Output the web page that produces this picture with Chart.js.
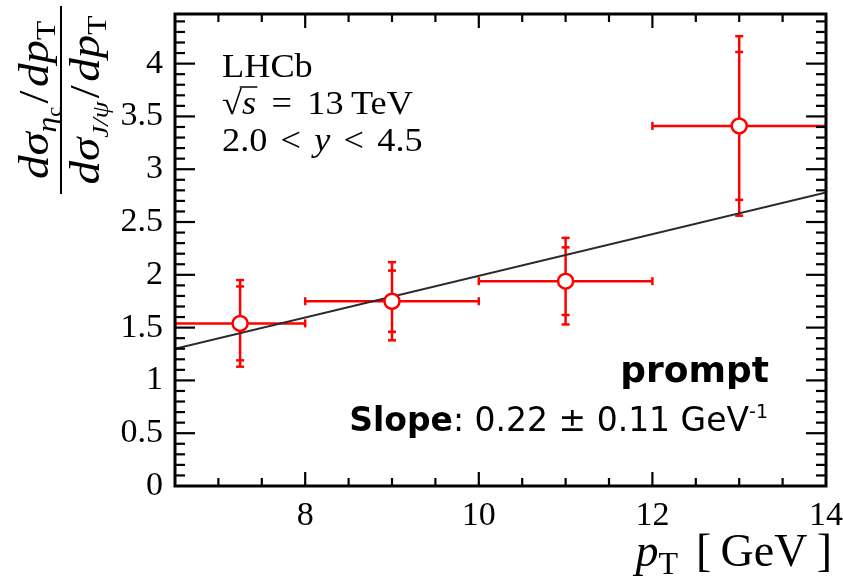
<!DOCTYPE html>
<html>
<head>
<meta charset="utf-8">
<script src="https://cdn.jsdelivr.net/npm/chart.js@4.4.1/dist/chart.umd.min.js"></script>
<style>
  html, body { margin: 0; padding: 0; background: #fff; }
  #wrap { width: 843px; height: 585px; }
</style>
</head>
<body>
<div id="wrap"><canvas id="ratio" width="843" height="585"></canvas></div>
<script>
// pT bins [GeV]
const binLow = [6.5, 8, 10, 12];
const binHigh = [8, 10, 12, 14];
const binCentre = [7.25, 9, 11, 13];
// eta_c / J/psi cross-section ratio with stat and total uncertainties
const ratio = [1.54, 1.75, 1.94, 3.41];
const statErr = [0.35, 0.29, 0.32, 0.70];
const totErr = [0.41, 0.37, 0.41, 0.85];
// linear fit, drawn across the frame
const fitX = [6.5, 14];
const fitY = [1.30, 2.78];
// axis labels
const xTicks = [8, 10, 12, 14];
const yTicks = [0, 0.5, 1, 1.5, 2, 2.5, 3, 3.5, 4];

const SERIF = '"Liberation Serif", "DejaVu Serif", serif';
const SANS = '"DejaVu Sans", "Liberation Sans", sans-serif';
const RED = '#ff0000';

// draws a row of text pieces with their own font and vertical shift
function drawRuns(ctx, runs, x, y, align) {
    let w = 0;
    runs.forEach(r => { ctx.font = r.font; w += ctx.measureText(r.t).width + (r.gap || 0); });
    let cx = align === 'center' ? x - w / 2 : align === 'right' ? x - w : x;
    runs.forEach(r => {
        ctx.font = r.font;
        ctx.fillText(r.t, cx, y + (r.dy || 0));
        cx += ctx.measureText(r.t).width + (r.gap || 0);
    });
    return w;
}

function seg(ctx, x1, y1, x2, y2) {
    ctx.beginPath();
    ctx.moveTo(x1, y1);
    ctx.lineTo(x2, y2);
    ctx.stroke();
}

const errorBars = {
    id: 'errorBars',
    beforeDatasetsDraw(chart) {
        const { ctx, chartArea: a } = chart;
        const x = chart.scales.x, y = chart.scales.y;
        ctx.save();
        ctx.beginPath();
        ctx.rect(a.left, a.top, a.right - a.left, a.bottom - a.top);
        ctx.clip();
        ctx.strokeStyle = RED;
        ctx.lineWidth = 2.5;
        binCentre.forEach((xc, i) => {
            const px = x.getPixelForValue(xc);
            const py = y.getPixelForValue(ratio[i]);
            const xl = x.getPixelForValue(binLow[i]);
            const xh = x.getPixelForValue(binHigh[i]);
            seg(ctx, xl, py, xh, py);
            seg(ctx, xl, py - 4, xl, py + 4);
            seg(ctx, xh, py - 4, xh, py + 4);
            const tHi = y.getPixelForValue(ratio[i] + totErr[i]);
            const tLo = y.getPixelForValue(ratio[i] - totErr[i]);
            const sHi = y.getPixelForValue(ratio[i] + statErr[i]);
            const sLo = y.getPixelForValue(ratio[i] - statErr[i]);
            seg(ctx, px, tHi, px, tLo);
            [tHi, tLo, sHi, sLo].forEach(v => seg(ctx, px - 4, v, px + 4, v));
        });
        ctx.restore();
    }
};

const frame = {
    id: 'frame',
    afterDatasetsDraw(chart) {
        const { ctx, chartArea: a } = chart;
        const x = chart.scales.x, y = chart.scales.y;
        ctx.save();
        ctx.strokeStyle = '#000';
        ctx.lineWidth = 2.2;
        // x ticks every 0.5, major every 2
        for (let v = x.min + 0.5; v < x.max - 0.01; v += 0.5) {
            const px = x.getPixelForValue(v);
            const len = Math.abs(v % 2) < 0.01 ? 14 : 8;
            seg(ctx, px, a.bottom, px, a.bottom - len);
            seg(ctx, px, a.top, px, a.top + len);
        }
        // y ticks every 0.1, major every 0.5
        for (let k = 1; k / 10 < y.max; k++) {
            const py = y.getPixelForValue(k / 10);
            const len = k % 5 === 0 ? 20 : 10;
            seg(ctx, a.left, py, a.left + len, py);
            seg(ctx, a.right, py, a.right - len, py);
        }
        ctx.lineWidth = 3;
        ctx.strokeRect(a.left, a.top, a.right - a.left, a.bottom - a.top);
        ctx.restore();
    }
};

const texts = {
    id: 'texts',
    afterDraw(chart) {
        const { ctx } = chart;
        ctx.save();
        ctx.fillStyle = '#000';
        ctx.strokeStyle = '#000';
        ctx.textBaseline = 'alphabetic';

        // LHCb block, stretched a little to the width of the LaTeX font
        const f = 33;
        ctx.textAlign = 'left';
        ctx.save();
        ctx.translate(222, 0);
        ctx.scale(1.1, 1);
        ctx.font = `${f}px ${SERIF}`;
        ctx.fillText('LHCb', 0, 77);
        drawRuns(ctx, [
            { t: '\u221A', font: `${f}px ${SERIF}` },
            { t: 's', font: `italic ${f}px ${SERIF}`, gap: 14 },
            { t: '=', font: `${f}px ${SERIF}`, gap: 14 },
            { t: '13\u2009TeV', font: `${f}px ${SERIF}` }
        ], 0, 114, 'left');
        ctx.font = `${f}px ${SERIF}`;
        const rw = ctx.measureText('\u221A').width;
        ctx.lineWidth = 1.5;
        seg(ctx, rw - 2, 87, rw + 14, 87);
        drawRuns(ctx, [
            { t: '2.0', font: `${f}px ${SERIF}`, gap: 12 },
            { t: '<', font: `${f}px ${SERIF}`, gap: 12 },
            { t: 'y', font: `italic ${f}px ${SERIF}`, gap: 12 },
            { t: '<', font: `${f}px ${SERIF}`, gap: 12 },
            { t: '4.5', font: `${f}px ${SERIF}` }
        ], 0, 151, 'left');
        ctx.restore();

        // prompt / slope
        ctx.font = `bold 36px ${SANS}`;
        ctx.textAlign = 'right';
        ctx.fillText('prompt', 769, 382);
        ctx.textAlign = 'left';
        drawRuns(ctx, [
            { t: 'Slope', font: `bold 33px ${SANS}` },
            { t: ': 0.22 \u00B1 0.11 GeV', font: `33px ${SANS}` },
            { t: '-1', font: `19px ${SANS}`, dy: -13 }
        ], 768, 431, 'right');

        // x title
        drawRuns(ctx, [
            { t: 'p', font: `italic 46px ${SERIF}` },
            { t: 'T', font: `32px ${SERIF}`, dy: 8, gap: 18 },
            { t: '[\u2009GeV\u2009]', font: `46px ${SERIF}` }
        ], 832, 566, 'right');

        // y title, rotated fraction
        ctx.save();
        ctx.translate(61, 100);
        ctx.rotate(-Math.PI / 2);
        const num = [
            { t: 'd\u03C3', font: `italic 42px ${SERIF}` },
            { t: '\u03B7', font: `italic 28px ${SERIF}`, dy: 8 },
            { t: 'c', font: `20px ${SERIF}`, dy: 13, gap: 3 },
            { t: '/', font: `42px ${SERIF}`, gap: 3 },
            { t: 'dp', font: `italic 42px ${SERIF}` },
            { t: 'T', font: `28px ${SERIF}`, dy: 7 }
        ];
        const den = [
            { t: 'd\u03C3', font: `italic 42px ${SERIF}` },
            { t: 'J/\u03C8', font: `italic 24px ${SERIF}`, dy: 9, gap: 3 },
            { t: '/', font: `42px ${SERIF}`, gap: 3 },
            { t: 'dp', font: `italic 42px ${SERIF}` },
            { t: 'T', font: `28px ${SERIF}`, dy: 7 }
        ];
        ctx.lineWidth = 2;
        seg(ctx, -94, 0, 94, 0);
        ctx.save();
        ctx.scale(1.12, 1);
        drawRuns(ctx, num, 0, -13, 'center');
        drawRuns(ctx, den, 0, 38, 'center');
        ctx.restore();
        ctx.restore();

        ctx.restore();
    }
};

new Chart(document.getElementById('ratio'), {
    type: 'scatter',
    data: {
        datasets: [
            {
                label: 'ratio',
                data: binCentre.map((v, i) => ({ x: v, y: ratio[i] })),
                pointStyle: 'circle',
                pointRadius: 7.5,
                pointBorderWidth: 2.5,
                pointBackgroundColor: '#fff',
                pointBorderColor: RED,
                order: 0
            },
            {
                type: 'line',
                label: 'fit',
                data: fitX.map((v, i) => ({ x: v, y: fitY[i] })),
                borderColor: '#2a2a2a',
                borderWidth: 2,
                pointRadius: 0,
                order: 1
            }
        ]
    },
    options: {
        responsive: false,
        animation: false,
        devicePixelRatio: 1,
        layout: { padding: { left: 0, top: 14, right: 17, bottom: 0 } },
        plugins: { legend: { display: false }, tooltip: { enabled: false } },
        scales: {
            x: {
                type: 'linear',
                min: 6.5,
                max: 14,
                grid: { display: false },
                border: { display: false },
                afterBuildTicks: s => { s.ticks = xTicks.map(v => ({ value: v })); },
                afterFit: s => { s.height = 585 - 486; s.paddingLeft = 0; s.paddingRight = 0; },
                ticks: { font: { family: SERIF, size: 34 }, color: '#000', padding: 2, maxRotation: 0, autoSkip: false,
                         callback: v => String(v) }
            },
            y: {
                type: 'linear',
                min: 0,
                max: 4.47,
                grid: { display: false },
                border: { display: false },
                afterBuildTicks: s => { s.ticks = yTicks.map(v => ({ value: v })); },
                afterFit: s => { s.width = 175; s.paddingTop = 0; s.paddingBottom = 0; },
                ticks: { font: { family: SERIF, size: 34 }, color: '#000', padding: 4, autoSkip: false,
                         callback: v => String(v) }
            }
        }
    },
    plugins: [errorBars, frame, texts]
});
</script>
</body>
</html>
